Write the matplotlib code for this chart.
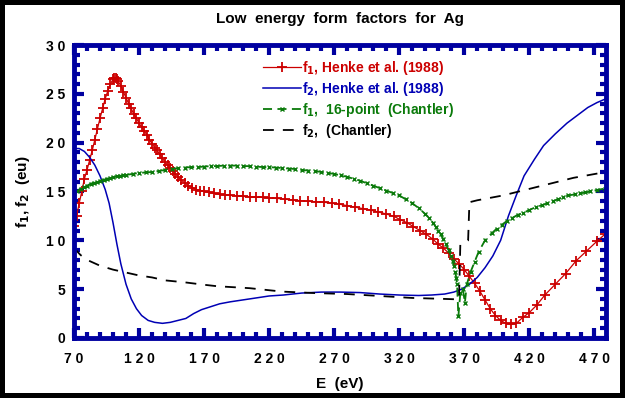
import matplotlib
matplotlib.use('Agg')
import matplotlib.pyplot as plt
from matplotlib.ticker import MultipleLocator, FuncFormatter

plt.rcParams['font.family'] = ['Liberation Sans', 'DejaVu Sans']
plt.rcParams['font.weight'] = 'bold'

# f1, Henke et al. (1988)
e_f1_henke = [70, 72, 74, 76, 78, 80, 82, 84, 86, 88, 90, 92, 94, 96, 98, 100, 101, 102, 103, 104,
              106, 108, 110, 112, 114, 116, 118, 120, 122, 124, 126, 128, 130, 132, 134, 136, 138, 140,
              142, 144, 146, 148, 150, 152, 155, 158, 161, 164, 167, 170, 174, 178, 182, 186, 190,
              195, 200, 205, 210, 215, 220, 226, 232, 238, 244, 250, 256, 262, 268, 274, 280, 286,
              292, 298, 304, 310, 316, 321, 326, 331, 336, 341, 346, 350, 354, 358, 362, 366, 370,
              374, 378, 382, 386, 390, 394, 398, 402, 406, 410, 415, 420, 426, 432, 440, 448, 456,
              464, 472, 478]
f1_henke = [11.5, 12.5, 13.8, 15.0, 16.3, 17.2, 18.2, 19.2, 20.3, 21.4, 22.5, 23.5, 24.5, 25.3, 26.0,
            26.5, 26.6, 26.6, 26.5, 26.3, 25.8, 25.2, 24.6, 24.0, 23.5, 22.9, 22.5, 22.0, 21.6, 21.2,
            20.8, 20.3, 19.9, 19.5, 19.2, 18.8, 18.4, 18.0, 17.7, 17.4, 17.1, 16.8, 16.5, 16.2, 15.9,
            15.6, 15.4, 15.2, 15.1, 15.0, 14.9, 14.8, 14.7, 14.65, 14.6, 14.55, 14.5, 14.45, 14.4,
            14.4, 14.35, 14.3, 14.2, 14.15, 14.05, 14.0, 13.95, 13.9, 13.8, 13.7, 13.55, 13.4, 13.25,
            13.1, 12.9, 12.7, 12.45, 12.1, 11.8, 11.4, 11.0, 10.6, 10.1, 9.6, 9.2, 8.7, 8.1, 7.6,
            7.0, 6.3, 5.6, 4.8, 3.9, 3.0, 2.3, 1.8, 1.5, 1.4, 1.5, 2.1, 2.6, 3.4, 4.4, 5.5, 6.6, 7.9,
            8.9, 9.9, 10.6]

# f2, Henke et al. (1988)
e_f2_henke = [70, 74, 78, 82, 86, 90, 94, 97, 100, 103, 106, 110, 114, 118, 122, 127, 132, 138, 144,
              150, 156, 162, 168, 175, 182, 190, 200, 210, 220, 231, 245, 260, 275, 290, 305, 320,
              335, 345, 355, 362, 368, 374, 380, 386, 392, 398, 404, 410, 416, 424, 431, 440, 449,
              457, 465, 472, 479]
f2_henke = [19.4, 19.4, 19.1, 18.5, 17.7, 16.6, 15.2, 13.8, 11.8, 9.6, 7.6, 5.5, 4.0, 3.0, 2.3, 1.8,
            1.6, 1.5, 1.6, 1.8, 2.0, 2.5, 2.9, 3.2, 3.5, 3.7, 3.9, 4.1, 4.3, 4.4, 4.6, 4.7, 4.7, 4.65,
            4.5, 4.4, 4.35, 4.4, 4.5, 4.7, 5.0, 5.5, 6.2, 7.2, 8.4, 10.0, 12.5, 14.6, 16.6, 18.3, 19.7,
            20.9, 22.0, 22.8, 23.6, 24.1, 24.5]

# f1, 16-point (Chantler)
e_f1_chantler = [70, 72, 75, 78, 80, 83, 85, 88, 90, 93, 95, 98, 100, 103, 105, 108, 110, 115, 120,
                 125, 130, 135, 140, 145, 150, 155, 160, 165, 170, 175, 180, 185, 190, 195, 200, 205,
                 210, 215, 220, 225, 230, 235, 240, 245, 250, 255, 260, 265, 270, 275, 280, 285, 290,
                 295, 300, 305, 310, 315, 320, 325, 330, 335, 340, 343, 346, 348, 350, 352, 354, 356,
                 358, 360, 361, 362, 363, 364, 364.5, 365.5, 367, 369, 370.5, 372, 375, 378, 381, 386,
                 391, 395, 399, 403, 407, 411, 415, 420, 425, 430, 434, 438, 442, 446, 450, 455, 459,
                 463, 467, 472, 478]
f1_chantler = [14.8, 15.0, 15.3, 15.5, 15.6, 15.8, 15.9, 16.0, 16.1, 16.2, 16.3, 16.4, 16.45, 16.55,
               16.6, 16.65, 16.7, 16.8, 16.9, 16.95, 17.0, 17.1, 17.2, 17.3, 17.4, 17.45, 17.5, 17.5,
               17.55, 17.6, 17.6, 17.65, 17.65, 17.65, 17.6, 17.6, 17.55, 17.5, 17.5, 17.45, 17.4,
               17.35, 17.3, 17.2, 17.15, 17.1, 17.0, 16.9, 16.8, 16.65, 16.5, 16.3, 16.1, 15.85, 15.6,
               15.35, 15.1, 14.85, 14.6, 14.2, 13.8, 13.3, 12.7, 12.3, 11.8, 11.4, 11.0, 10.6, 10.1,
               9.6, 9.0, 8.4, 7.9, 7.4, 6.8, 6.1, 5.5, 2.2, 4.6, 5.0, 3.6, 5.5, 6.8, 7.8, 8.8, 10.0,
               10.7, 11.2, 11.6, 12.0, 12.3, 12.6, 12.8, 13.1, 13.4, 13.6, 13.8, 14.0, 14.2, 14.4, 14.6,
               14.7, 14.8, 14.9, 15.0, 15.15, 15.3]

# f2, (Chantler)
e_f2_chantler = [70, 75, 80, 85, 90, 100, 110, 120, 130, 140, 155, 170, 180, 205, 230, 255, 280, 305,
                 330, 355, 366, 367, 373, 374, 380, 400, 427, 454, 479]
f2_chantler = [9.2, 8.5, 8.0, 7.7, 7.4, 7.0, 6.7, 6.4, 6.2, 5.9, 5.7, 5.45, 5.3, 5.1, 4.75, 4.6, 4.5,
               4.3, 4.1, 4.0, 3.95, 9.6, 10.0, 13.9, 14.1, 14.6, 15.5, 16.4, 17.0]

red = '#cc0000'
blue = '#0000b4'
green = '#0a7a0a'
frame_blue = '#0000a0'

fig = plt.figure(figsize=(6.25, 3.98), dpi=100)
fig.patch.set_edgecolor('black')
fig.patch.set_linewidth(7)
ax = fig.add_axes([0.1184, 0.1508, 0.8512, 0.7361])

ax.plot(e_f1_henke, f1_henke, color=red, lw=0.9, marker='+', ms=7, mew=1.3,
        label='f$_1$, Henke et al. (1988)')
ax.plot(e_f2_henke, f2_henke, color=blue, lw=1.1, label="f$_2$, Henke et al. (1988)")
ax.plot(e_f1_chantler, f1_chantler, color=green, lw=1.3, ls=(0, (5, 3)), marker='x', ms=2.5,
        mew=1.0, label="f$_1$,  16-point  (Chantler)")
ax.plot(e_f2_chantler, f2_chantler, color='black', lw=1.3, ls=(0, (6, 5)),
        label="f$_2$,  (Chantler)")

ax.set_xlim(70, 479)
ax.set_ylim(0, 30)
ax.xaxis.set_major_locator(MultipleLocator(50, offset=20))
ax.xaxis.set_minor_locator(MultipleLocator(10))
ax.yaxis.set_major_locator(MultipleLocator(5))
ax.yaxis.set_minor_locator(MultipleLocator(1))
spaced = FuncFormatter(lambda v, p: ' '.join(str(int(round(v)))))
ax.xaxis.set_major_formatter(spaced)
ax.yaxis.set_major_formatter(spaced)

for s in ax.spines.values():
    s.set_color(frame_blue)
    s.set_linewidth(3.5)
ax.tick_params(which='both', direction='in', top=True, right=True, color=frame_blue)
ax.tick_params(which='major', length=7, width=3, labelsize=10, pad=6)
ax.tick_params(axis='x', which='major', pad=10)
ax.tick_params(which='minor', length=4, width=3)

ax.set_xlabel('E  (eV)', fontsize=11, fontweight='bold', labelpad=8)
ax.set_ylabel('f$_1$, f$_2$  (eu)', fontsize=11, fontweight='bold', labelpad=10)
ax.set_title('Low  energy  form  factors  for  Ag', fontsize=11, fontweight='bold', pad=16)

leg = ax.legend(loc='upper left', bbox_to_anchor=(0.345, 0.97), frameon=False, fontsize=10,
                handlelength=2.7, handletextpad=0.1, labelspacing=0.2, borderaxespad=0)
for txt, col in zip(leg.get_texts(), [red, blue, green, 'black']):
    txt.set_color(col)
    txt.set_fontweight('bold')

fig.savefig('out.png', dpi=100, facecolor='white', edgecolor='black')
